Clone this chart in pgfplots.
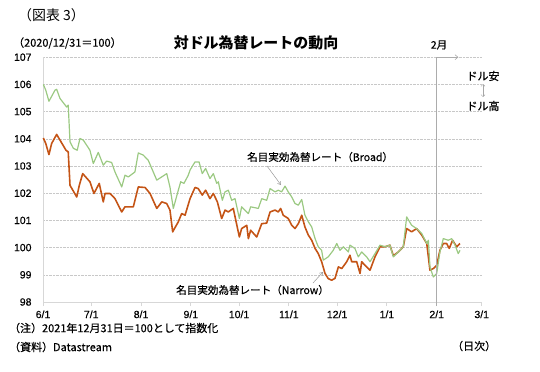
\documentclass[border=0pt]{standalone}
\usepackage{fontspec}
\setmainfont{Liberation Sans}
\newfontfamily\jp{Noto Sans CJK JP}
\newfontfamily\jpm[FakeBold=0.4]{Noto Sans CJK JP}
\newfontfamily\tickf[FakeBold=0.5]{Liberation Sans}
\usepackage{pgfplots}
\pgfplotsset{compat=1.18}
\usetikzlibrary{arrows.meta}
\definecolor{broad}{RGB}{155,201,130}
\definecolor{narrow}{RGB}{196,84,22}
\definecolor{gridc}{RGB}{200,200,200}
\definecolor{axc}{RGB}{215,215,215}
\begin{document}
\begin{tikzpicture}
\useasboundingbox (0bp,0bp) rectangle (540bp,-372bp);
\begin{axis}[
  at={(43bp,-302bp)}, anchor=south west,
  x=1.607bp, y=27.2bp,
  xmin=0, xmax=273, ymin=98, ymax=107,
  clip=false,
  axis x line=bottom, axis y line=left,
  axis line style={-, draw=axc, line width=0.8pt},
  xtick={0,30,61,92,122,153,183,214,245,273},
  xticklabels={6/1,7/1,8/1,9/1,10/1,11/1,12/1,1/1,2/1,3/1},
  ytick={98,99,...,107},
  ymajorgrids, grid style={gridc, densely dotted, line width=0.6pt},
  xtick style={draw=axc, line width=0.8pt},
  major tick length=4bp, tick align=outside,
  ytick style={draw=none},
  /pgf/number format/assume math mode=true,
  ticklabel style={font=\tickf\fontsize{10.5}{12}\selectfont},
  yticklabel style={xshift=-4bp},
  xticklabel style={yshift=-1bp},
]
\addplot[narrow, line width=1.6pt, line join=round] coordinates {
(0.2,104.03) (1.7,103.83) (3.7,103.42) (5.4,103.83) (8.5,104.16) (10.6,103.95) (14.3,103.58) (15.7,103.52)
(16.8,102.29) (21.0,101.86) (22.6,102.29) (24.7,102.72) (29.2,102.42) (31.7,101.99) (35.0,102.36) (37.5,101.68)
(38.6,101.99) (41.7,101.99) (44.8,101.80) (49.0,101.31) (51.0,101.50) (56.2,101.50) (59.3,102.23) (63.5,102.21)
(66.6,101.99) (70.8,101.44) (73.9,101.68) (77.0,101.62) (79.0,101.38) (80.7,100.58) (84.2,100.95) (86.3,101.25)
(88.4,101.19) (91.5,101.80) (94.6,102.21) (96.6,102.17) (99.1,101.93) (101.2,102.11) (103.9,101.80) (106.0,101.99)
(108.5,101.68) (111.2,101.07) (113.3,101.38) (115.3,101.31) (118.4,101.44) (122.2,100.39) (123.6,100.70) (126.8,100.82)
(127.8,100.33) (129.2,100.64) (133.0,100.39) (136.1,100.88) (139.2,100.90) (141.3,101.31) (144.4,101.38) (146.4,101.31)
(147.9,101.44) (149.5,101.19) (152.6,101.07) (154.8,100.82) (156.8,100.70) (158.9,100.88) (161.0,101.19) (163.0,100.76)
(165.1,100.46) (167.2,100.27) (169.3,99.97) (171.3,99.78) (173.4,99.48) (175.5,99.05) (177.5,98.86) (179.6,98.80)
(181.7,98.87) (183.8,99.29) (185.9,99.23) (189.0,99.48) (191.0,99.72) (192.1,99.48) (195.2,99.48) (197.3,99.05)
(198.3,99.48) (201.4,99.29) (203.5,99.17) (206.6,99.66) (209.7,100.03) (212.8,100.03) (215.9,100.09) (218.0,99.70)
(221.1,99.84) (224.2,100.03) (226.3,100.70) (229.4,100.58) (232.5,100.70) (235.7,100.46) (238.8,100.15) (240.8,99.17)
(242.9,99.23) (245.0,99.35) (247.0,99.90) (249.1,100.15) (251.2,100.15) (252.8,99.97) (254.9,100.27) (257.4,100.03)
(259.5,100.15)
};
\addplot[broad, line width=1.2pt, line join=round] coordinates {
(0.2,106.00) (1.7,105.79) (3.7,105.38) (7.5,105.79) (8.5,105.82) (10.6,105.48) (14.7,105.17) (15.7,105.24)
(16.8,103.89) (18.9,103.65) (21.3,103.58) (23.0,104.01) (25.1,103.95) (29.2,103.58) (31.3,103.09) (34.4,103.50)
(37.5,103.03) (39.6,103.18) (42.7,103.13) (44.8,102.78) (49.0,102.23) (51.0,102.66) (53.1,102.60) (57.2,102.78)
(59.3,103.48) (62.4,103.40) (65.5,103.21) (70.8,102.48) (73.9,102.60) (77.0,102.72) (79.0,102.23) (81.1,101.44)
(84.2,102.11) (85.7,102.42) (87.7,102.36) (90.4,102.66) (91.5,102.85) (94.6,103.15) (97.1,103.15) (99.1,102.72)
(101.2,102.91) (103.9,102.54) (106.0,102.72) (108.1,102.36) (109.1,102.42) (111.6,101.74) (113.3,102.05) (115.3,102.11)
(117.4,101.74) (119.5,101.80) (122.2,101.07) (123.6,101.50) (127.8,101.25) (129.2,101.50) (134.0,101.44) (136.1,101.80)
(139.2,101.74) (141.3,102.17) (142.3,102.13) (144.4,102.05) (146.4,102.11) (148.5,102.05) (150.6,102.26) (152.6,102.05)
(154.8,101.86) (156.8,101.62) (158.9,101.56) (161.0,101.77) (163.0,101.19) (165.1,100.95) (167.2,100.76) (169.3,100.33)
(171.3,100.03) (173.4,99.90) (174.4,99.54) (177.5,99.66) (180.6,99.90) (182.8,100.15) (184.8,99.90) (186.9,100.03)
(190.0,99.84) (191.0,100.09) (194.1,99.97) (196.2,99.66) (198.3,99.84) (201.4,99.66) (203.5,99.48) (206.6,99.78)
(209.7,100.09) (212.8,100.03) (215.9,100.09) (218.0,99.66) (221.1,99.84) (224.2,100.03) (226.3,101.13) (229.4,100.82)
(232.5,100.70) (235.7,100.52) (238.8,100.15) (239.8,100.27) (240.8,99.29) (242.9,98.92) (245.0,99.05) (247.0,99.84)
(249.1,100.33) (252.2,100.27) (254.3,100.33) (256.4,100.09) (258.4,99.78) (259.5,99.90)
};
\draw[gray!65, line width=0.9pt] (axis cs:245,97.85) -- (axis cs:245,107);
\draw[gray!65, line width=0.6pt, -{Straight Barb[length=3bp,width=5bp]}] (axis cs:245,107) -- (axis cs:258.5,107);
\end{axis}
% arrows for labels
\draw[gray!80, line width=0.5pt, -{Straight Barb[length=3bp,width=4bp]}] (267bp,-166bp) -- (281bp,-185bp);
\draw[gray!80, line width=0.5pt, -{Straight Barb[length=3bp,width=4bp]}] (313bp,-283bp) -- (323bp,-272bp);
\draw[gray!70, line width=0.5pt, {Straight Barb[length=2bp,width=4bp]}-{Straight Barb[length=2bp,width=4bp]}] (483bp,-84bp) -- (483bp,-97bp);
% texts
\node[font=\jp\fontsize{14}{16}\selectfont, anchor=west, inner sep=0pt] at (18bp,-15bp) {（図表 3）};
\node[font=\jpm\fontsize{11}{13}\selectfont, anchor=west, inner sep=0pt] at (13bp,-43bp) {（2020/12/31＝100）};
\node[font=\jp\bfseries\fontsize{15}{17}\selectfont, inner sep=0pt] at (256bp,-43bp) {対ドル為替レートの動向};
\node[font=\jpm\fontsize{10.5}{12}\selectfont, inner sep=0pt] at (439bp,-45bp) {2月};
\node[font=\jpm\fontsize{11}{13}\selectfont, inner sep=0pt] at (483bp,-76bp) {ドル安};
\node[font=\jpm\fontsize{11}{13}\selectfont, inner sep=0pt] at (483bp,-106bp) {ドル高};
\node[font=\jpm\fontsize{10.6}{12}\selectfont, anchor=west, inner sep=0pt] at (247bp,-157bp) {名目実効為替レート（Broad）};
\node[font=\jpm\fontsize{10.6}{12}\selectfont, anchor=west, inner sep=0pt] at (176bp,-290bp) {名目実効為替レート（Narrow）};
\node[font=\jpm\fontsize{11}{13}\selectfont, anchor=west, inner sep=0pt] at (9bp,-328bp) {（注）2021年12月31日＝100として指数化};
\node[font=\jpm\fontsize{11}{13}\selectfont, anchor=west, inner sep=0pt] at (9bp,-347bp) {（資料）Datastream};
\node[font=\jpm\fontsize{11}{13}\selectfont, anchor=west, inner sep=0pt] at (452bp,-346bp) {（日次）};
\end{tikzpicture}
\end{document}
